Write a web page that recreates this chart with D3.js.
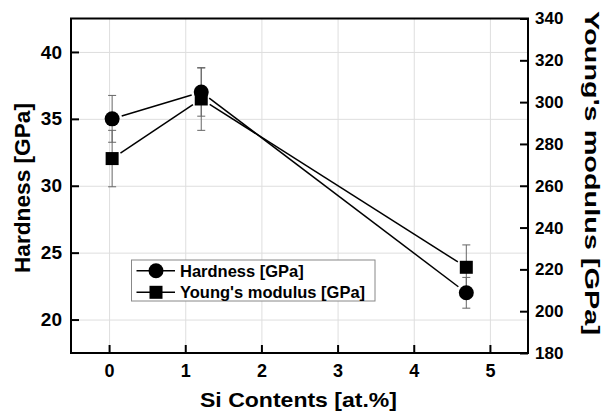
<!DOCTYPE html>
<html>
<head>
<meta charset="utf-8">
<script src="https://cdn.jsdelivr.net/npm/d3@7"></script>
<style>
  body { margin: 0; background: #fff; }
  svg { display: block; font-family: "Liberation Sans", Arial, sans-serif; }
</style>
</head>
<body>
<svg id="chart" width="606" height="412"></svg>
<script>
// values
const siContent = [0.04, 1.21, 4.69];
const hardness = [35.0, 37.0, 22.0];
const hardnessErr = [1.75, 1.8, 1.15];
const modulus = [273, 301.5, 221];
const modulusErr = [13.5, 15, 10.7];

const xTicks = [0, 1, 2, 3, 4, 5];
const leftTicks = [20, 25, 30, 35, 40];
const rightTicks = [180, 200, 220, 240, 260, 280, 300, 320, 340];
const seriesNames = ["Hardness [GPa]", "Young's modulus [GPa]"];

const plotLeft = 71, plotRight = 528, plotTop = 18.5, plotBottom = 353;
const svg = d3.select("#chart");

const x = d3.scaleLinear().domain([-0.5, 5.5]).range([plotLeft, plotRight]);
const yL = d3.scaleLinear().domain([17.5, 42.5]).range([plotBottom, plotTop]);
const yR = d3.scaleLinear().domain([180, 340]).range([plotBottom, plotTop]);

// grid
svg.append("g")
    .attr("transform", `translate(0,${plotBottom})`)
    .call(d3.axisBottom(x).tickValues(xTicks).tickSize(-(plotBottom - plotTop)).tickFormat(""))
    .call(g => g.select(".domain").remove())
    .call(g => g.selectAll("line").attr("stroke", "#dedede").attr("stroke-width", 1));
svg.append("g")
    .attr("transform", `translate(${plotLeft},0)`)
    .call(d3.axisLeft(yL).tickValues(leftTicks).tickSize(-(plotRight - plotLeft)).tickFormat(""))
    .call(g => g.select(".domain").remove())
    .call(g => g.selectAll("line").attr("stroke", "#dedede").attr("stroke-width", 1));

// axes, ticks point inward
const styleAxis = (g, size) => {
    g.select(".domain").remove();
    g.selectAll("line").attr("stroke", "black").attr("stroke-width", 2);
    g.selectAll("text")
        .attr("fill", "black")
        .style("font-size", size + "px")
        .style("font-weight", "bold");
};
svg.append("g")
    .attr("transform", `translate(0,${plotBottom})`)
    .call(d3.axisBottom(x).tickValues(xTicks).tickFormat(d3.format("d"))
        .tickSizeInner(-8).tickSizeOuter(0).tickPadding(11))
    .call(g => styleAxis(g, 18));
svg.append("g")
    .attr("transform", `translate(${plotLeft},0)`)
    .call(d3.axisLeft(yL).tickValues(leftTicks).tickSizeInner(-8).tickSizeOuter(0).tickPadding(9))
    .call(g => styleAxis(g, 19));
svg.append("g")
    .attr("transform", `translate(${plotRight},0)`)
    .call(d3.axisRight(yR).tickValues(rightTicks).tickSizeInner(-8).tickSizeOuter(0).tickPadding(7))
    .call(g => styleAxis(g, 17));

// frame
svg.append("rect")
    .attr("x", plotLeft)
    .attr("y", plotTop)
    .attr("width", plotRight - plotLeft)
    .attr("height", plotBottom - plotTop)
    .attr("fill", "none")
    .attr("stroke", "black")
    .attr("stroke-width", 2);

// axis titles
svg.append("text")
    .attr("transform", `translate(30,188) rotate(-90)`)
    .attr("text-anchor", "middle")
    .attr("textLength", 170)
    .attr("lengthAdjust", "spacingAndGlyphs")
    .style("font-size", "22px")
    .style("font-weight", "bold")
    .text("Hardness [GPa]");
svg.append("text")
    .attr("transform", `translate(585,173) rotate(90)`)
    .attr("text-anchor", "middle")
    .attr("textLength", 324)
    .attr("lengthAdjust", "spacingAndGlyphs")
    .style("font-size", "21px")
    .style("font-weight", "bold")
    .text("Young's modulus [GPa]");
svg.append("text")
    .attr("x", 298.5)
    .attr("y", 407)
    .attr("text-anchor", "middle")
    .attr("textLength", 197)
    .attr("lengthAdjust", "spacingAndGlyphs")
    .style("font-size", "21px")
    .style("font-weight", "bold")
    .text("Si Contents [at.%]");

const hPts = siContent.map((d, i) => ({ x: x(d), y: yL(hardness[i]), lo: yL(hardness[i] - hardnessErr[i]), hi: yL(hardness[i] + hardnessErr[i]) }));
const mPts = siContent.map((d, i) => ({ x: x(d), y: yR(modulus[i]), lo: yR(modulus[i] - modulusErr[i]), hi: yR(modulus[i] + modulusErr[i]) }));

const drawErr = (pts) => {
    pts.forEach(p => {
        svg.append("line")
            .attr("x1", p.x).attr("x2", p.x)
            .attr("y1", p.lo).attr("y2", p.hi)
            .attr("stroke", "#666").attr("stroke-width", 1);
        [p.lo, p.hi].forEach(v => {
            svg.append("line")
                .attr("x1", p.x - 4).attr("x2", p.x + 4)
                .attr("y1", v).attr("y2", v)
                .attr("stroke", "#666").attr("stroke-width", 1);
        });
    });
};

// connecting segments, with a small gap at the symbols
const drawSegs = (pts, gap) => {
    for (let i = 0; i < pts.length - 1; i++) {
        const a = pts[i], b = pts[i + 1];
        const dx = b.x - a.x, dy = b.y - a.y, len = Math.hypot(dx, dy);
        const ux = dx / len, uy = dy / len;
        svg.append("line")
            .attr("x1", a.x + ux * gap).attr("y1", a.y + uy * gap)
            .attr("x2", b.x - ux * gap).attr("y2", b.y - uy * gap)
            .attr("stroke", "black")
            .attr("stroke-width", 1.5);
    }
};

drawErr(hPts);
drawErr(mPts);
drawSegs(hPts, 10);
drawSegs(mPts, 10);

svg.append("g").selectAll("rect")
    .data(mPts)
    .join("rect")
    .attr("x", d => d.x - 6.5)
    .attr("y", d => d.y - 6.5)
    .attr("width", 13)
    .attr("height", 13)
    .attr("fill", "black");
svg.append("g").selectAll("circle")
    .data(hPts)
    .join("circle")
    .attr("cx", d => d.x)
    .attr("cy", d => d.y)
    .attr("r", 7.5)
    .attr("fill", "black");

// legend
const legend = svg.append("g").attr("transform", "translate(131.5,260)");
legend.append("rect")
    .attr("width", 243.5)
    .attr("height", 41)
    .attr("fill", "white")
    .attr("stroke", "#888")
    .attr("stroke-width", 1);
seriesNames.forEach((name, i) => {
    const ly = 10.7 + i * 21.6;
    legend.append("line")
        .attr("x1", 5).attr("x2", 43.5)
        .attr("y1", ly).attr("y2", ly)
        .attr("stroke", "black")
        .attr("stroke-width", 1.5);
    if (i === 0) {
        legend.append("circle").attr("cx", 24.5).attr("cy", ly).attr("r", 7.5).attr("fill", "black");
    } else {
        legend.append("rect").attr("x", 18).attr("y", ly - 6.5).attr("width", 13).attr("height", 13).attr("fill", "black");
    }
    legend.append("text")
        .attr("x", 48.5)
        .attr("y", ly)
        .attr("dy", "0.36em")
        .style("font-size", "16.5px")
        .style("font-weight", "bold")
        .text(name);
});
</script>
</body>
</html>
